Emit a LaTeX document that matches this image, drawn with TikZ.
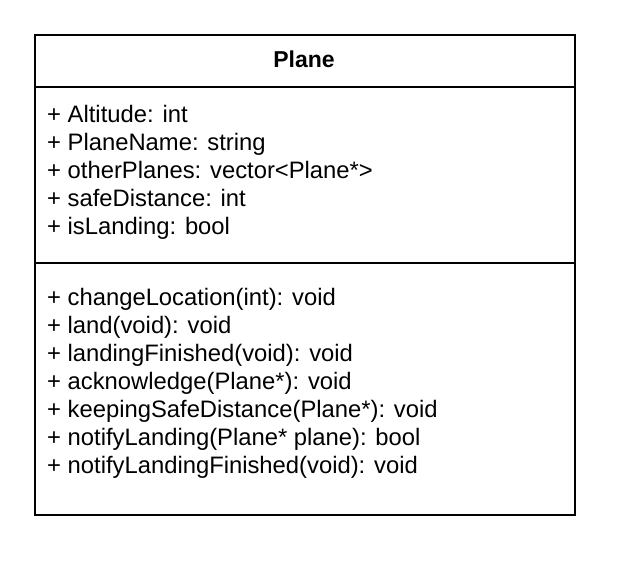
\documentclass[tikz,border=0pt]{standalone}
\usepackage{fontspec}
\setmainfont{Liberation Sans}
\usetikzlibrary{positioning}

\begin{document}
\begin{tikzpicture}[x=1pt, y=-1pt,
    member/.style={anchor=base west, inner sep=0pt, font=\fontsize{23.8}{28}\selectfont},
    classname/.style={anchor=base, inner sep=0pt, font=\fontsize{23}{27}\selectfont\bfseries}]
            \useasboundingbox (0,0) rectangle (624,568);
            \coordinate (NW) at (35,35);
            \coordinate (SE) at (575,515);
            \coordinate (HeadL) at (35,87);
            \coordinate (HeadR) at (575,87);
            \coordinate (SepL) at (35,263);
            \coordinate (SepR) at (575,263);
            \draw[line width=1.5pt] (NW) rectangle (SE);
            \draw[line width=1.5pt] (HeadL) -- (HeadR);
            \draw[line width=1.5pt] (SepL) -- (SepR);
            \node [classname] (Plane) at (304,67.5) {Plane};
            \foreach \Attr [count=\i] in {{+ Altitude: int}, {+ PlaneName: string},
                {+ otherPlanes: vector<Plane*>}, {+ safeDistance: int}, {+ isLanding: bool}}{
                \node [member] (attr\i) at (47,94+28*\i) {\Attr};
            }
            \foreach \Op [count=\i] in {{+ changeLocation(int): void}, {+ land(void): void},
                {+ landingFinished(void): void}, {+ acknowledge(Plane*): void},
                {+ keepingSafeDistance(Plane*): void}, {+ notifyLanding(Plane* plane): bool},
                {+ notifyLandingFinished(void): void}}{
                \node [member] (op\i) at (47,277+28*\i) {\Op};
            }
        \end{tikzpicture}
\end{document}
